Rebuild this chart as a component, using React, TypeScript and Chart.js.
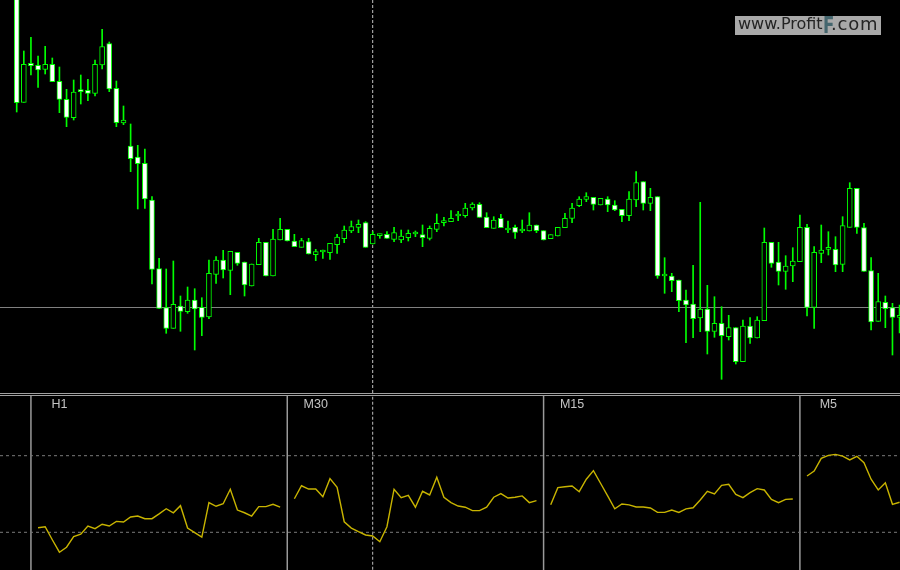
import React, { useEffect, useRef } from 'react';
import { Chart, registerables } from 'chart.js';

Chart.register(...registerables);

// ---- Price candles (arbitrary price units) ----
const candleOpen = [398, 290.7, 329.7, 327.7, 323.7, 328.7, 311.7, 293.7, 275.3, 303, 302.7, 299.7, 328, 349.3, 304.7, 270, 247, 236, 229.7, 193, 124.3, 85.3, 64.7, 87, 81.3, 93, 85.7, 76, 118.7, 133, 122.7, 140.7, 131, 107, 128.3, 150.7, 117, 153, 163.7, 152, 145.7, 151.3, 138.3, 141, 140.3, 148.3, 154.3, 162, 165.7, 170.3, 149, 157.3, 158.7, 153.7, 153, 155.3, 159, 158.3, 154.7, 163.7, 170.3, 171.3, 177, 177.3, 185, 188.7, 176, 164.7, 174.7, 163, 165.7, 162, 162, 168, 162.3, 154.3, 157, 165.3, 174.7, 187.3, 193.7, 195.7, 188, 194, 188, 183.7, 177.3, 193, 211.3, 189.7, 196.3, 117, 117, 113, 93, 89, 75, 84, 61.7, 69.7, 56.3, 65.3, 31.3, 67, 55, 72.3, 150.7, 131, 121.7, 127, 131.3, 165.7, 85.7, 139.7, 143.7, 143.7, 128.7, 165.7, 204.7, 165.3, 122.3, 71.7, 90.7, 85.3, 75.7];
const candleHigh = [408, 342, 355.7, 337, 346.7, 335, 326, 303.7, 313, 318, 313.7, 333, 363.7, 351, 312, 287, 269, 247.7, 244, 196.3, 134.7, 124, 132, 97, 106, 104.3, 95.3, 133, 136.3, 142.7, 141.7, 140.7, 131, 129, 154.7, 150.7, 163.7, 174.7, 163.7, 158.7, 154.7, 154.7, 143.7, 143, 149.7, 158.7, 167, 172, 173, 171.3, 161.3, 159, 161.3, 165.7, 163, 163, 162, 168, 167, 179, 175.7, 182.3, 181.7, 189.7, 190.3, 190.3, 180.3, 176.3, 178.7, 172, 168, 173, 180.3, 168, 162.3, 158.3, 165.7, 179.7, 189.7, 196.3, 200.3, 195.7, 194.7, 196.3, 192.3, 183.7, 201.3, 221.3, 211.3, 204.7, 196.3, 135.3, 119.7, 113, 103, 127.7, 190.7, 107.7, 96.3, 86.3, 77.7, 65.3, 73, 75.3, 76.3, 165, 150.7, 150.7, 137.3, 145.3, 178, 168.7, 146.3, 168, 161.3, 156.3, 176.3, 210.3, 204.7, 169.7, 135.3, 119.7, 97, 89.7, 88];
const candleLow = [281, 290.7, 318, 305.7, 319, 311.3, 280.3, 266.3, 273, 289, 292.3, 297, 324, 301.3, 266.3, 268.3, 221.3, 184, 184.7, 109, 84.7, 59.7, 64.7, 61.7, 79.7, 43, 57.3, 74.3, 109.7, 115, 98.3, 127.7, 97, 107, 128.3, 117, 117, 153, 152, 146.3, 145.7, 139, 132.3, 134.7, 133.7, 139.7, 150.3, 160.3, 160.3, 145.7, 149, 154.7, 154.7, 151.3, 150.3, 152, 156.3, 146.3, 153, 161.3, 167, 171.3, 172.3, 175.7, 183, 175.7, 165.3, 164.7, 165.3, 160.3, 154.7, 160.3, 162, 160.3, 153, 154.3, 157, 165.3, 170.3, 186.3, 191.3, 183, 188, 181.3, 182.3, 171.3, 172.3, 186.3, 183, 182.3, 114.7, 99.7, 101.3, 81.3, 50.3, 55.3, 61.3, 39, 55.7, 13.7, 53, 29, 31.3, 49.7, 55, 72.3, 125.7, 108, 103.7, 111.3, 131.3, 77, 64.7, 130.3, 138, 121.3, 121.3, 165.7, 159.7, 121.7, 63, 71.7, 65.3, 38, 60];
const candleClose = [290.3, 328.7, 327.3, 323, 328.7, 311.3, 293.7, 275.7, 301, 301.3, 299.7, 328.7, 346.3, 304, 270.3, 273, 234.3, 229.3, 194, 123.7, 84.7, 64.7, 88.7, 81.7, 93, 84, 75.7, 119.7, 133, 123, 141.7, 129.7, 108, 129, 150.7, 117, 154, 163.7, 152, 146.3, 152.3, 139, 141.3, 141, 149.7, 156, 163, 166.3, 168.7, 145.7, 158.7, 158.7, 154.7, 160.3, 157, 159.7, 159, 155.3, 164.7, 169.7, 170.3, 174.7, 177, 185, 189, 175.7, 165.3, 173, 165.3, 163, 160.7, 162, 168, 162.3, 153, 158.3, 165.7, 174.7, 185, 194, 196.3, 188.7, 194.7, 188, 183, 177.3, 194, 210.3, 189.7, 195.7, 117, 117, 112.3, 92.3, 88, 74.3, 84, 61.7, 69.7, 57.3, 65.3, 31.3, 67, 55, 73, 150.7, 129.7, 121.7, 127, 132, 165.7, 85.7, 140.7, 143, 143.7, 128, 167.3, 204.7, 165.7, 121.7, 71, 91.3, 84.3, 75.7, 75.7];

const priceLineLevel = 85.5;
const crosshairIndex = 50;

// ---- Oscillator panel (per timeframe) ----
const sectionLabels = ['H1', 'M30', 'M15', 'M5'];
const sectionStarts = [2, 38, 74, 110];
const h1Values = [32.4, 32.9, 26.1, 19.6, 22.2, 27.7, 29.0, 33.3, 31.9, 34.2, 33.3, 35.7, 35.4, 38.0, 38.5, 37.1, 37.1, 39.6, 42.3, 40.2, 43.9, 32.2, 29.8, 27.5, 45.5, 43.6, 44.9, 52.5, 41.6, 40.2, 38.5, 43.4, 43.4, 44.6, 43.1];
const m30Values = [47.5, 54.3, 52.6, 52.6, 48.6, 58.0, 53.5, 35.5, 32.2, 30.3, 28.6, 28.1, 25.1, 32.9, 52.5, 48.1, 49.3, 43.1, 51.4, 49.5, 58.7, 48.3, 45.5, 43.7, 43.1, 41.3, 41.3, 43.1, 48.3, 50.2, 47.9, 48.3, 49.0, 45.5, 46.5];
const m15Values = [44.4, 53.3, 53.8, 54.2, 51.2, 57.7, 62.2, 55.6, 49.0, 42.3, 44.8, 44.3, 43.2, 43.2, 42.7, 40.4, 40.4, 41.6, 40.4, 42.2, 42.8, 46.9, 51.4, 50.0, 54.5, 55.1, 49.8, 48.1, 50.7, 52.8, 52.1, 47.2, 45.5, 47.2, 47.4];
const m5Values = [59.4, 62.0, 68.6, 70.2, 70.7, 69.8, 67.8, 69.7, 66.3, 57.7, 52.1, 55.9, 44.6, 45.7];
const levelValues = [30, 70];

const X_MIN = -2.3455;
const X_MAX = 124.0585;
const SLOT_PX = 7.12;
const FIRST_PX = 16.7;

const baseOptions = (yMin: number, yMax: number): any => ({
  animation: false,
  responsive: false,
  maintainAspectRatio: false,
  events: [],
  layout: { padding: 0 },
  plugins: { legend: { display: false }, tooltip: { enabled: false } },
  scales: {
    x: { type: 'linear', min: X_MIN, max: X_MAX, offset: false, display: false },
    y: { type: 'linear', min: yMin, max: yMax, display: false },
  },
});

export default function App() {
  const topRef = useRef<HTMLCanvasElement>(null);
  const botRef = useRef<HTMLCanvasElement>(null);

  useEffect(() => {
    const idx = candleOpen.map((_, i) => i);
    const top = new Chart(topRef.current as HTMLCanvasElement, {
      type: 'bar',
      data: {
        datasets: [
          {
            type: 'bar',
            label: 'Body',
            data: idx.map((i) => ({
              x: i,
              y: [Math.min(candleOpen[i], candleClose[i]), Math.max(candleOpen[i], candleClose[i])],
            })),
            backgroundColor: idx.map((i) => (candleClose[i] < candleOpen[i] ? '#ffffff' : '#000000')),
            borderColor: '#00ff00',
            borderWidth: 1,
            borderSkipped: false,
            barThickness: 5,
            minBarLength: 2,
            grouped: false,
            order: 0,
          } as any,
          {
            type: 'bar',
            label: 'Wick',
            data: idx.map((i) => ({ x: i, y: [candleLow[i], candleHigh[i]] })),
            backgroundColor: '#00ff00',
            borderWidth: 0,
            barThickness: 1,
            grouped: false,
            order: 1,
          } as any,
          {
            type: 'line',
            label: 'Price',
            data: [
              { x: X_MIN, y: priceLineLevel },
              { x: X_MAX, y: priceLineLevel },
            ],
            borderColor: '#808080',
            borderWidth: 1,
            pointRadius: 0,
            order: 2,
          } as any,
          {
            type: 'line',
            label: 'Cross',
            data: [
              { x: crosshairIndex, y: 0 },
              { x: crosshairIndex, y: 393 },
            ],
            borderColor: '#c0c0c0',
            borderWidth: 1,
            borderDash: [3, 2],
            pointRadius: 0,
            order: 2,
          } as any,
        ],
      },
      options: baseOptions(0, 393),
    });

    const series = [h1Values, m30Values, m15Values, m5Values];
    const datasets: any[] = series.map((vals, s) => ({
      type: 'line',
      label: sectionLabels[s],
      data: vals.map((v, j) => ({ x: sectionStarts[s] + 1 + j, y: v })),
      borderColor: '#c8b400',
      borderWidth: 1.4,
      pointRadius: 0,
      tension: 0,
      order: 0,
    }));
    levelValues.forEach((lv) =>
      datasets.push({
        type: 'line',
        label: 'Level ' + lv,
        data: [
          { x: X_MIN, y: lv },
          { x: X_MAX, y: lv },
        ],
        borderColor: '#7a7a7a',
        borderWidth: 1,
        borderDash: [3, 3],
        pointRadius: 0,
        order: 1,
      })
    );
    sectionStarts.forEach((st) =>
      datasets.push({
        type: 'line',
        label: 'Divider',
        data: [
          { x: st, y: 0 },
          { x: st, y: 120 },
        ],
        borderColor: '#9a9a9a',
        borderWidth: 1.5,
        pointRadius: 0,
        order: 1,
      })
    );
    datasets.push({
      type: 'line',
      label: 'Cross',
      data: [
        { x: crosshairIndex, y: 0 },
        { x: crosshairIndex, y: 120 },
      ],
      borderColor: '#c0c0c0',
      borderWidth: 1,
      borderDash: [3, 2],
      pointRadius: 0,
      order: 1,
    });

    const bot = new Chart(botRef.current as HTMLCanvasElement, {
      type: 'line',
      data: { datasets },
      options: baseOptions(10.31, 101.17),
    });

    return () => {
      top.destroy();
      bot.destroy();
    };
  }, []);

  return (
    <div
      style={{
        position: 'fixed',
        left: 0,
        top: 0,
        width: 900,
        height: 570,
        background: '#000000',
        overflow: 'hidden',
      }}
    >
      <canvas ref={topRef} width={900} height={393} style={{ position: 'absolute', left: 0, top: 0 }} />
      <div style={{ position: 'absolute', left: 0, top: 393, width: 900, height: 1, background: '#a0a0a0' }} />
      <div style={{ position: 'absolute', left: 0, top: 395, width: 900, height: 1, background: '#a0a0a0' }} />
      <canvas ref={botRef} width={900} height={174} style={{ position: 'absolute', left: 0, top: 396 }} />

      {sectionLabels.map((lab, s) => (
        <div
          key={lab}
          style={{
            position: 'absolute',
            left: FIRST_PX + SLOT_PX * (sectionStarts[s] + 4),
            top: 398,
            transform: 'translateX(-50%)',
            font: '12.5px "Liberation Sans", Arial, sans-serif',
            lineHeight: '12px',
            color: '#c4c4c4',
            whiteSpace: 'nowrap',
          }}
        >
          {lab}
        </div>
      ))}

      <div
        style={{
          position: 'absolute',
          left: 735,
          top: 16,
          width: 146,
          height: 19,
          background: '#a9a9a9',
        }}
      >
        <span
          style={{
            position: 'absolute',
            left: 3,
            top: 0,
            font: '16px "DejaVu Sans", sans-serif',
            lineHeight: '16px',
            color: '#242424',
            whiteSpace: 'nowrap',
          }}
        >
          www.Profit
        </span>
        <span
          style={{
            position: 'absolute',
            left: 88,
            top: -2,
            font: 'bold 23px "DejaVu Sans", sans-serif',
            lineHeight: '23px',
            color: '#45666e',
            transform: 'scaleX(0.72)',
            transformOrigin: 'left top',
            whiteSpace: 'nowrap',
            display: 'inline-block',
          }}
        >
          F
        </span>
        <span
          style={{
            position: 'absolute',
            left: 96,
            top: -1,
            font: '18px "DejaVu Sans", sans-serif',
            lineHeight: '18px',
            letterSpacing: '0.8px',
            color: '#242424',
            whiteSpace: 'nowrap',
          }}
        >
          .com
        </span>
      </div>
    </div>
  );
}
